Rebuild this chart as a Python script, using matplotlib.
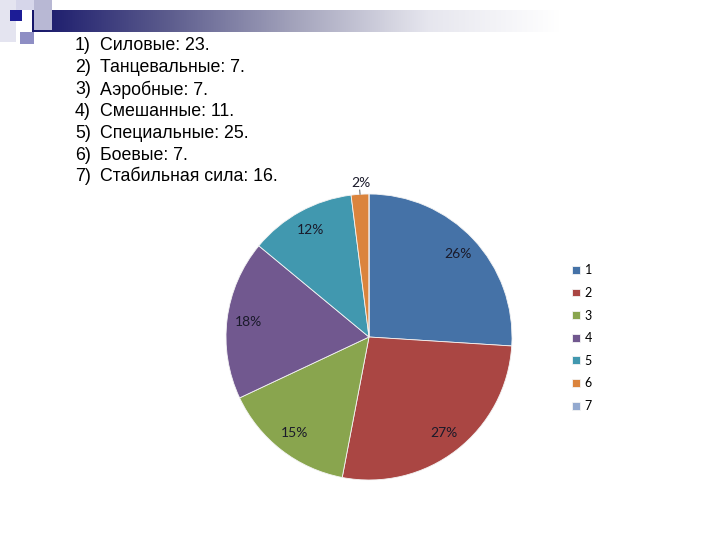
import numpy as np
import matplotlib
matplotlib.use("Agg")
import matplotlib.pyplot as plt
from matplotlib.colors import LinearSegmentedColormap
from matplotlib.patches import Rectangle

# данные
items = ["Силовые: 23.", "Танцевальные: 7.", "Аэробные: 7.", "Смешанные: 11.",
         "Специальные: 25.", "Боевые: 7.", "Стабильная сила: 16."]
legend_labels = ["1", "2", "3", "4", "5", "6", "7"]
shares = [26, 27, 15, 18, 12, 2, 0]
colors = ["#4572A7", "#AA4643", "#89A54E", "#71588F", "#4198AF", "#DB843D", "#93A9CF"]

W, H = 720, 540
fig = plt.figure(figsize=(W / 100, H / 100), dpi=100)
fig.patch.set_facecolor("white")

# фон слайда: полоса с градиентом и квадратики
bg = fig.add_axes([0, 0, 1, 1])
bg.set_xlim(0, W)
bg.set_ylim(H, 0)
bg.axis("off")

cmap = LinearSegmentedColormap.from_list("bar", ["#16166a", "#5a5a8c", "#a4a4bc", "#e6e6ee", "#ffffff"])
grad = np.linspace(0, 1, 256).reshape(1, -1)
bg.imshow(grad, cmap=cmap, extent=[32, 560, 32, 10], aspect="auto", zorder=1)

squares = [
    (0, 0, 16, 42, "#e4e4f0"),
    (16, 0, 28, 10, "#d6d6ea"),
    (34, 0, 18, 30, "#b8b8d4"),
    (20, 32, 14, 12, "#8e8ec4"),
    (10, 10, 12, 11, "#1c1c96"),
]
for x, y, w, h, c in squares:
    bg.add_patch(Rectangle((x, y), w, h, facecolor=c, edgecolor="none", zorder=2))

# список
for i, t in enumerate(items):
    y = 46 + i * 21.8
    bg.text(75, y, f"{i + 1})", fontsize=12.8, family="Liberation Sans", va="center", ha="left")
    bg.text(100, y, t, fontsize=12.8, family="Liberation Sans", va="center", ha="left")

# круговая диаграмма
cx, cy, r = 369, 337, 143
ax = fig.add_axes([(cx - r) / W, (H - cy - r) / H, 2 * r / W, 2 * r / H])


def fmt(p):
    return f"{p:.0f}%" if p >= 0.5 else ""


wedges, texts, autotexts = ax.pie(
    shares, colors=colors, startangle=90, counterclock=False, radius=1,
    autopct=fmt, pctdistance=0.85,
    wedgeprops=dict(edgecolor="#f4f4f4", linewidth=0.6),
    textprops=dict(fontsize=10, family="Lato", color="#1a1a2a"),
)
ax.set_xlim(-1, 1)
ax.set_ylim(-1, 1)
ax.set_aspect("auto")

# маленький сектор — подпись снаружи
for w, at, v in zip(wedges, autotexts, shares):
    if 0 < v < 5:
        ang = np.deg2rad((w.theta1 + w.theta2) / 2)
        dx, dy = np.cos(ang), np.sin(ang)
        at.set_position((1.08 * dx + 0.01, 1.08 * dy))
        ax.plot([1.0 * dx, 1.03 * dx], [1.0 * dy, 1.03 * dy], color="#404040", lw=0.6, clip_on=False)

fig.legend(wedges, legend_labels, loc="upper left", bbox_to_anchor=(561 / W, 1 - 253 / H),
           frameon=False, handlelength=0.6, handleheight=0.6,
           handletextpad=0.4, labelspacing=0.85, prop=dict(family="Lato", size=9))

fig.savefig("out.png", dpi=100, facecolor="white")
